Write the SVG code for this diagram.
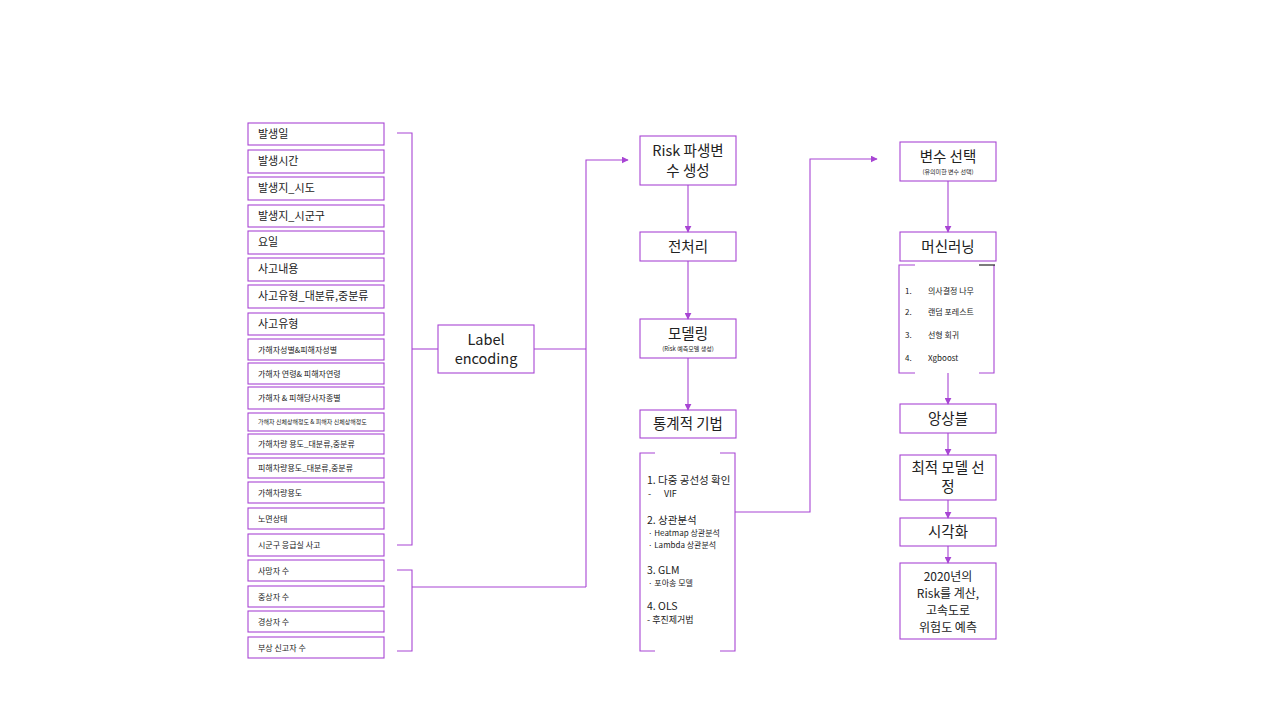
<svg xmlns="http://www.w3.org/2000/svg" width="1280" height="720" viewBox="0 0 1280 720">
  <style>
    .box { fill: #ffffff; stroke: #a845d4; stroke-width: 1.1; }
    .ln { fill: none; stroke: #a845d4; stroke-width: 1.1; }
    text { font-family: "Noto Sans CJK KR", "Noto Sans", sans-serif; fill: #222222; }
    .f11 { font-size: 11px; }
    .f10 { font-size: 10.5px; }
    .f9 { font-size: 9px; }
    .f8 { font-size: 8px; }
    .f6 { font-size: 6px; }
    .mid { text-anchor: middle; }
    .big { font-size: 14.5px; text-anchor: middle; }
    .fc { font-size: 12px; text-anchor: middle; }
  </style>
  <defs>
    <marker id="arr" viewBox="0 0 10 10" refX="9" refY="5" markerWidth="7" markerHeight="7" orient="auto" markerUnits="userSpaceOnUse">
      <path d="M0,0 L10,5 L0,10 z" fill="#a845d4"/>
    </marker>
  </defs>
  <rect width="1280" height="720" fill="#ffffff"/>

  <!-- input fields -->
  <g id="fields">
    <g id="f1"><rect class="box" x="248" y="123" width="136" height="22"/><text class="f11" x="258" y="138">발생일</text></g>
    <g id="f2"><rect class="box" x="248" y="150" width="136" height="23"/><text class="f11" x="258" y="165">발생시간</text></g>
    <g id="f3"><rect class="box" x="248" y="177" width="136" height="23"/><text class="f11" x="258" y="192">발생지_시도</text></g>
    <g id="f4"><rect class="box" x="248" y="205" width="136" height="22"/><text class="f11" x="258" y="220">발생지_시군구</text></g>
    <g id="f5"><rect class="box" x="248" y="231" width="136" height="23"/><text class="f11" x="258" y="246">요일</text></g>
    <g id="f6"><rect class="box" x="248" y="258" width="136" height="23"/><text class="f11" x="258" y="273">사고내용</text></g>
    <g id="f7"><rect class="box" x="248" y="285" width="136" height="23"/><text class="f11" x="258" y="300">사고유형_대분류,중분류</text></g>
    <g id="f8"><rect class="box" x="248" y="313" width="136" height="22"/><text class="f11" x="258" y="328">사고유형</text></g>
    <g id="f9"><rect class="box" x="248" y="339" width="136" height="21"/><text class="f8" x="258" y="353">가해자성별&amp;피해자성별</text></g>
    <g id="f10"><rect class="box" x="248" y="363" width="136" height="21"/><text class="f8" x="258" y="377">가해자 연령&amp; 피해자연령</text></g>
    <g id="f11"><rect class="box" x="248" y="387" width="136" height="22"/><text class="f8" x="258" y="401">가해자 &amp; 피해당사자종별</text></g>
    <g id="f12"><rect class="box" x="248" y="413" width="136" height="18"/><text class="f6" x="258" y="424">가해자 신체상해정도 &amp; 피해자 신체상해정도</text></g>
    <g id="f13"><rect class="box" x="248" y="434" width="136" height="20"/><text class="f8" x="258" y="447">가해차량 용도_대분류,중분류</text></g>
    <g id="f14"><rect class="box" x="248" y="458" width="136" height="20"/><text class="f8" x="258" y="471">피해차량용도_대분류,중분류</text></g>
    <g id="f15"><rect class="box" x="248" y="482" width="136" height="21"/><text class="f8" x="258" y="496">가해차량용도</text></g>
    <g id="f16"><rect class="box" x="248" y="508" width="136" height="21"/><text class="f8" x="258" y="522">노면상태</text></g>
    <g id="f17"><rect class="box" x="248" y="534" width="136" height="22"/><text class="f8" x="258" y="548">시군구 응급실 사고</text></g>
    <g id="f18"><rect class="box" x="248" y="560" width="136" height="21"/><text class="f8" x="258" y="574">사망자 수</text></g>
    <g id="f19"><rect class="box" x="248" y="586" width="136" height="21"/><text class="f8" x="258" y="600">중상자 수</text></g>
    <g id="f20"><rect class="box" x="248" y="611" width="136" height="21"/><text class="f8" x="258" y="625">경상자 수</text></g>
    <g id="f21"><rect class="box" x="248" y="637" width="136" height="21"/><text class="f8" x="258" y="651">부상 신고자 수</text></g>
  </g>

  <!-- middle column -->
  <g id="label-encoding">
    <rect class="box" x="438" y="325" width="96" height="48"/>
    <text class="big" x="486" y="345">Label</text>
    <text class="big" x="486" y="364">encoding</text>
  </g>
  <g id="risk-var">
    <rect class="box" x="640" y="136" width="96" height="49"/>
    <text class="big" x="688" y="156">Risk 파생변</text>
    <text class="big" x="688" y="176">수 생성</text>
  </g>
  <g id="preprocess">
    <rect class="box" x="640" y="232" width="96" height="29"/>
    <text class="big" x="688" y="252">전처리</text>
  </g>
  <g id="modeling">
    <rect class="box" x="640" y="319" width="96" height="39"/>
    <text class="big" x="688" y="339">모델링</text>
    <text class="f6 mid" x="688" y="351">(Risk 예측모델 생성)</text>
  </g>
  <g id="stats">
    <rect class="box" x="640" y="410" width="96" height="28"/>
    <text class="big" x="688" y="429">통계적 기법</text>
  </g>
  <g id="stats-list">
    <path class="ln" d="M655,453 H640 V651 H655 M720,453 H735 V651 H720"/>
    <text class="f10" x="647" y="484">1. 다중 공선성 확인</text>
    <text class="f9" x="648" y="497">-</text>
    <text class="f9" x="664" y="497">VIF</text>
    <text class="f10" x="647" y="524">2. 상관분석</text>
    <text class="f8" x="648" y="536">· Heatmap  상관분석</text>
    <text class="f8" x="648" y="548">· Lambda  상관분석</text>
    <text class="f10" x="647" y="574">3. GLM</text>
    <text class="f8" x="648" y="586">· 포아송 모델</text>
    <text class="f10" x="647" y="610">4. OLS</text>
    <text class="f9" x="647" y="623">- 후진제거법</text>
  </g>

  <!-- right column -->
  <g id="var-select">
    <rect class="box" x="900" y="142" width="96" height="39"/>
    <text class="big" x="948" y="162">변수 선택</text>
    <text class="f6 mid" x="948" y="174">(유의미한 변수 선택)</text>
  </g>
  <g id="ml">
    <rect class="box" x="900" y="232" width="96" height="29"/>
    <text class="big" x="948" y="252">머신러닝</text>
  </g>
  <g id="ml-list">
    <path class="ln" d="M915,265 H899 V373 H915 M979,373 H994 V265"/>
    <path d="M979,265 H995" stroke="#111111" stroke-width="1.1" fill="none"/>
    <text class="f8" x="905" y="294">1.</text><text class="f8" x="928" y="294">의사결정 나무</text>
    <text class="f8" x="905" y="315">2.</text><text class="f8" x="928" y="315">랜덤 포레스트</text>
    <text class="f8" x="905" y="338">3.</text><text class="f8" x="928" y="338">선형 회귀</text>
    <text class="f8" x="905" y="361">4.</text><text class="f8" x="928" y="361">Xgboost</text>
  </g>
  <g id="ensemble">
    <rect class="box" x="900" y="404" width="96" height="29"/>
    <text class="big" x="948" y="424">앙상블</text>
  </g>
  <g id="best-model">
    <rect class="box" x="900" y="455" width="96" height="45"/>
    <text class="big" x="948" y="473">최적 모델 선</text>
    <text class="big" x="948" y="492">정</text>
  </g>
  <g id="visual">
    <rect class="box" x="900" y="518" width="96" height="28"/>
    <text class="big" x="948" y="537">시각화</text>
  </g>
  <g id="forecast">
    <rect class="box" x="900" y="563" width="96" height="76"/>
    <text class="fc" x="948" y="581">2020년의</text>
    <text class="fc" x="948" y="598">Risk를 계산,</text>
    <text class="fc" x="948" y="615">고속도로</text>
    <text class="fc" x="948" y="632">위험도 예측</text>
  </g>

  <!-- connectors -->
  <g id="connectors">
    <path class="ln" d="M397,133 H412 V545 H397"/>
    <path class="ln" d="M412,349 H438"/>
    <path class="ln" d="M397,570 H412 V651 H397"/>
    <path class="ln" d="M412,587 H586"/>
    <path class="ln" d="M534,349 H586"/>
    <path class="ln" d="M586,587 V160 H628" marker-end="url(#arr)"/>
    <path class="ln" d="M688,185 V232" marker-end="url(#arr)"/>
    <path class="ln" d="M688,261 V319" marker-end="url(#arr)"/>
    <path class="ln" d="M688,358 V410" marker-end="url(#arr)"/>
    <path class="ln" d="M735,512 H810 V159 H877" marker-end="url(#arr)"/>
    <path class="ln" d="M948,181 V232" marker-end="url(#arr)"/>
    <path class="ln" d="M948,373 V404" marker-end="url(#arr)"/>
    <path class="ln" d="M948,433 V455" marker-end="url(#arr)"/>
    <path class="ln" d="M948,500 V518" marker-end="url(#arr)"/>
    <path class="ln" d="M948,546 V563" marker-end="url(#arr)"/>
  </g>
</svg>
